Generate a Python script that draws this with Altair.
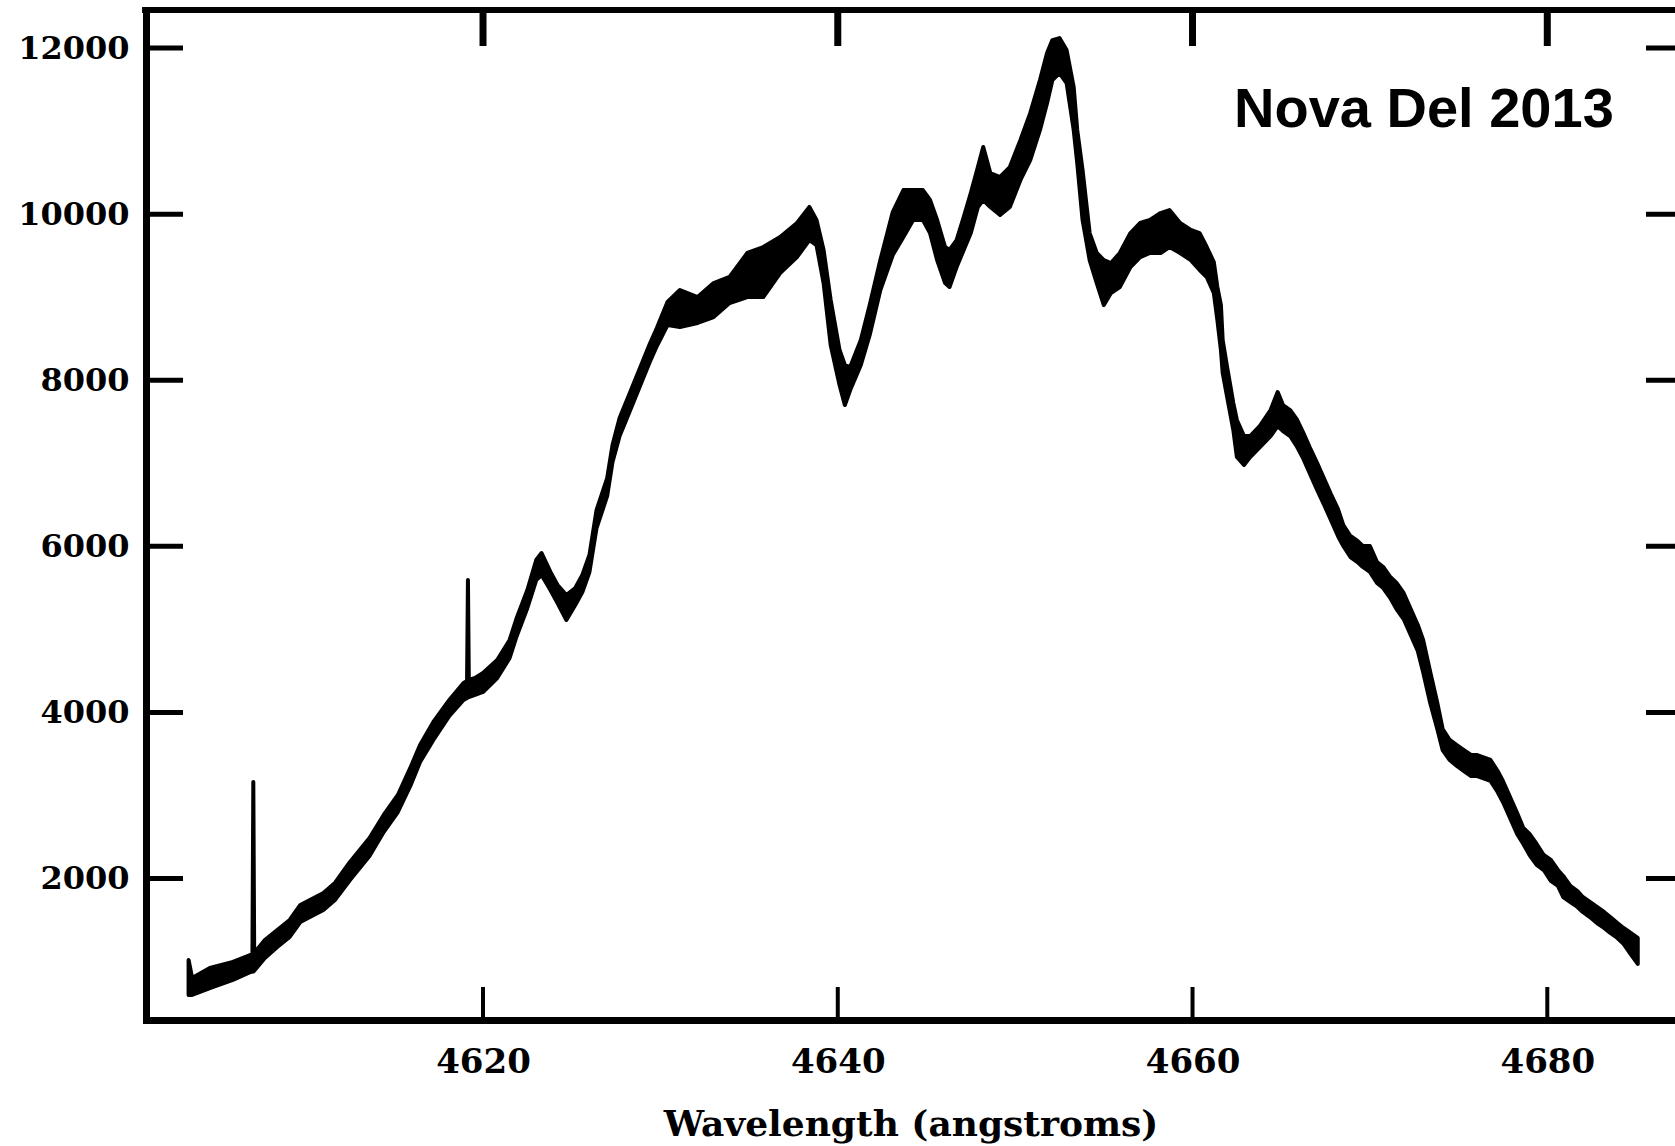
import altair as alt
import pandas as pd

# Spectrum of Nova Del 2013: wavelength (angstroms) with the upper and lower
# edge of the noisy flux trace at each wavelength.
WAVELENGTH = [
    4603.4, 4603.6, 4604.6, 4605.9, 4606.9, 4607.0, 4607.05, 4607.1, 4607.7, 4608.4,
    4609.1, 4609.7, 4611.0, 4611.65, 4612.5, 4613.6, 4614.4, 4615.2, 4615.9, 4616.45,
    4617.2, 4618.1, 4618.9, 4619.1, 4619.15, 4619.2, 4619.55, 4620.0, 4620.8, 4621.5,
    4621.9, 4622.5, 4623.0, 4623.3, 4623.8, 4624.2, 4624.7, 4625.2, 4625.6, 4626.0,
    4626.4, 4627.0, 4627.3, 4627.7, 4628.3, 4628.85, 4629.4, 4629.8, 4630.4, 4631.1,
    4632.1, 4633.0, 4633.9, 4634.9, 4635.8, 4636.75, 4637.7, 4638.4, 4638.8, 4639.2,
    4639.6, 4640.1, 4640.4, 4640.7, 4641.3, 4641.8, 4642.4, 4643.1, 4643.7, 4644.25,
    4644.8, 4645.2, 4645.6, 4646.05, 4646.3, 4646.7, 4647.1, 4647.5, 4647.9, 4648.2,
    4648.6, 4649.15, 4649.7, 4650.3, 4650.85, 4651.4, 4651.8, 4652.1, 4652.5, 4652.9,
    4653.3, 4653.5, 4653.8, 4654.2, 4654.6, 4655.0, 4655.4, 4655.9, 4656.5, 4657.05,
    4657.6, 4658.2, 4658.7, 4659.3, 4659.9, 4660.4, 4660.8, 4661.2, 4661.4, 4661.6,
    4661.7, 4661.95, 4662.3, 4662.5, 4662.9, 4663.25, 4663.8, 4664.4, 4664.8, 4665.1,
    4665.5, 4665.9, 4666.2, 4666.6, 4667.0, 4667.4, 4667.8, 4668.2, 4668.5, 4668.9,
    4669.3, 4669.6, 4670.0, 4670.4, 4670.75, 4671.15, 4671.5, 4671.9, 4672.3, 4672.7,
    4673.0, 4673.4, 4673.8, 4674.1, 4674.5, 4674.9, 4675.3, 4675.7, 4676.05, 4676.8,
    4677.2, 4677.5, 4677.9, 4678.3, 4678.65, 4679.0, 4679.4, 4679.8, 4680.2, 4680.6,
    4680.9, 4681.3, 4681.7, 4682.0, 4682.4, 4682.8, 4683.2, 4683.55, 4683.95, 4684.3,
    4684.7, 4685.1,
]

FLUX_HIGH = [
    1019, 802, 923, 995, 1079, 1080, 3162, 1100, 1260, 1380,
    1500, 1681, 1825, 1946, 2199, 2488, 2765, 3005, 3331, 3607,
    3884, 4149, 4354, 4378, 5594, 4390, 4414, 4474, 4631, 4872,
    5137, 5474, 5835, 5919, 5691, 5534, 5414, 5498, 5654, 5895,
    6437, 6822, 7220, 7545, 7858, 8147, 8436, 8629, 8942, 9086,
    9002, 9170, 9243, 9532, 9604, 9724, 9893, 10086, 9929, 9568,
    8966, 8364, 8183, 8159, 8484, 8905, 9447, 10025, 10290, 10290,
    10290, 10170, 9929, 9604, 9568, 9688, 9965, 10254, 10567, 10808,
    10495, 10447, 10567, 10892, 11217, 11615, 11940, 12096, 12120, 11976,
    11530, 11013, 10531, 9772, 9532, 9447, 9411, 9532, 9772, 9893,
    9929, 10013, 10049, 9893, 9809, 9772, 9604, 9423, 9122, 8905,
    8484, 8159, 7725, 7521, 7328, 7328, 7449, 7641, 7858, 7701,
    7641, 7521, 7388, 7196, 7015, 6822, 6630, 6449, 6256, 6124,
    6064, 6004, 6004, 5811, 5751, 5630, 5558, 5438, 5245, 5052,
    4872, 4486, 4113, 3800, 3668, 3607, 3547, 3487, 3487, 3427,
    3294, 3174, 2981, 2789, 2608, 2536, 2415, 2283, 2223, 2102,
    2030, 1910, 1849, 1777, 1717, 1657, 1597, 1536, 1464, 1404,
    1344, 1284,
]

FLUX_LOW = [
    597, 597, 681, 778, 874, 880, 880, 890, 1043, 1175,
    1296, 1476, 1621, 1741, 1982, 2271, 2560, 2801, 3114, 3403,
    3668, 3957, 4149, 4173, 4180, 4185, 4210, 4246, 4414, 4655,
    4920, 5257, 5594, 5654, 5474, 5317, 5113, 5293, 5450, 5691,
    6220, 6606, 7015, 7328, 7641, 7930, 8219, 8412, 8665, 8641,
    8689, 8761, 8930, 9002, 9002, 9291, 9483, 9688, 9628, 9170,
    8424, 7942, 7701, 7882, 8183, 8544, 9086, 9508, 9724, 9929,
    9929, 9772, 9447, 9170, 9122, 9363, 9568, 9772, 10086, 10170,
    10086, 9989, 10086, 10411, 10651, 11013, 11338, 11615, 11699, 11579,
    11013, 10615, 9929, 9447, 9170, 8905, 9050, 9122, 9363, 9483,
    9532, 9532, 9604, 9532, 9447, 9327, 9243, 9050, 8725, 8364,
    8087, 7798, 7400, 7075, 6979, 7075, 7196, 7328, 7449, 7388,
    7328, 7196, 7075, 6883, 6690, 6509, 6317, 6124, 6004, 5871,
    5811, 5751, 5691, 5558, 5498, 5377, 5245, 5125, 4932, 4739,
    4486, 4113, 3800, 3547, 3427, 3355, 3294, 3234, 3234, 3174,
    3042, 2921, 2728, 2536, 2415, 2283, 2163, 2102, 1970, 1910,
    1777, 1717, 1657, 1597, 1536, 1464, 1404, 1344, 1284, 1212,
    1091, 971,
]

X_TICKS = [4620, 4640, 4660, 4680]
Y_TICKS = [2000, 4000, 6000, 8000, 10000, 12000]
X_DOMAIN = [4601.0, 4687.2]
Y_DOMAIN = [296, 12458]
LABEL = "Nova Del 2013"
X_TITLE = "Wavelength (angstroms)"

W, H = 1529, 1010
FRAME = 7

spectrum = pd.DataFrame({"wavelength": WAVELENGTH, "high": FLUX_HIGH, "low": FLUX_LOW})
xticks = pd.DataFrame({"t": X_TICKS})
yticks = pd.DataFrame({"t": Y_TICKS})

x_scale = alt.Scale(domain=X_DOMAIN, nice=False, zero=False)
y_scale = alt.Scale(domain=Y_DOMAIN, nice=False, zero=False)

x_axis = alt.Axis(
    values=X_TICKS, format="d", grid=False, ticks=False, tickSize=0,
    domainColor="black", domainWidth=FRAME, domainCap="square",
    labelFont="DejaVu Serif", labelFontSize=34, labelFontWeight="bold",
    labelColor="black", labelPadding=25, labelFlush=False, labelOverlap=False,
    title=X_TITLE, titleFont="DejaVu Serif", titleFontSize=36,
    titleFontWeight="bold", titleColor="black", titleBaseline="alphabetic",
    titleY=115,
)
y_axis = alt.Axis(
    values=Y_TICKS, format="d", grid=False, ticks=False, tickSize=0,
    domainColor="black", domainWidth=FRAME, domainCap="square",
    labelFont="DejaVu Serif", labelFontSize=32, labelFontWeight="bold",
    labelColor="black", labelPadding=17, labelFlush=False, labelOverlap=False,
    labelBaseline="middle", title="",
)

# noisy flux trace: filled band between the lower and upper edges
trace = alt.Chart(spectrum).mark_area(
    color="black", stroke="black", strokeWidth=4, strokeJoin="round"
).encode(
    x=alt.X("wavelength:Q", scale=x_scale, axis=x_axis),
    y=alt.Y("high:Q", scale=y_scale, axis=y_axis),
    y2="low:Q",
)

# top edge of the frame
top_edge = alt.Chart(xticks).mark_rule(color="black", strokeWidth=6).encode(
    x=alt.value(-FRAME / 2), x2=alt.value(W + 10), y=alt.value(0)
)

# inward tick marks on all four sides
bottom_ticks = alt.Chart(xticks).mark_rule(color="black", strokeWidth=4).encode(
    x=alt.X("t:Q", scale=x_scale, axis=None), y=alt.value(H - 33), y2=alt.value(H)
)
top_ticks = alt.Chart(xticks).mark_rule(color="black", strokeWidth=7).encode(
    x=alt.X("t:Q", scale=x_scale, axis=None), y=alt.value(0), y2=alt.value(36)
)
left_ticks = alt.Chart(yticks).mark_rule(color="black", strokeWidth=5).encode(
    y=alt.Y("t:Q", scale=y_scale, axis=None), x=alt.value(0), x2=alt.value(37)
)
right_ticks = alt.Chart(yticks).mark_rule(color="black", strokeWidth=5).encode(
    y=alt.Y("t:Q", scale=y_scale, axis=None), x=alt.value(W - 29), x2=alt.value(W + 5)
)

label = alt.Chart(pd.DataFrame({"label": [LABEL]})).mark_text(
    align="left", baseline="alphabetic", font="Liberation Sans",
    fontSize=56, fontWeight="bold", color="black",
).encode(x=alt.value(1088), y=alt.value(117), text="label:N")

chart = alt.layer(
    trace, top_edge, bottom_ticks, top_ticks, left_ticks, right_ticks, label
).resolve_axis(
    x="independent", y="independent"
).properties(
    width=W, height=H,
    padding={"left": 146, "top": 10, "right": 0, "bottom": 126},
    autosize=alt.AutoSizeParams(type="none"),
    background="white",
).configure_view(strokeWidth=0)

chart.save("out.html", embed_options={"renderer": "svg", "actions": False})
